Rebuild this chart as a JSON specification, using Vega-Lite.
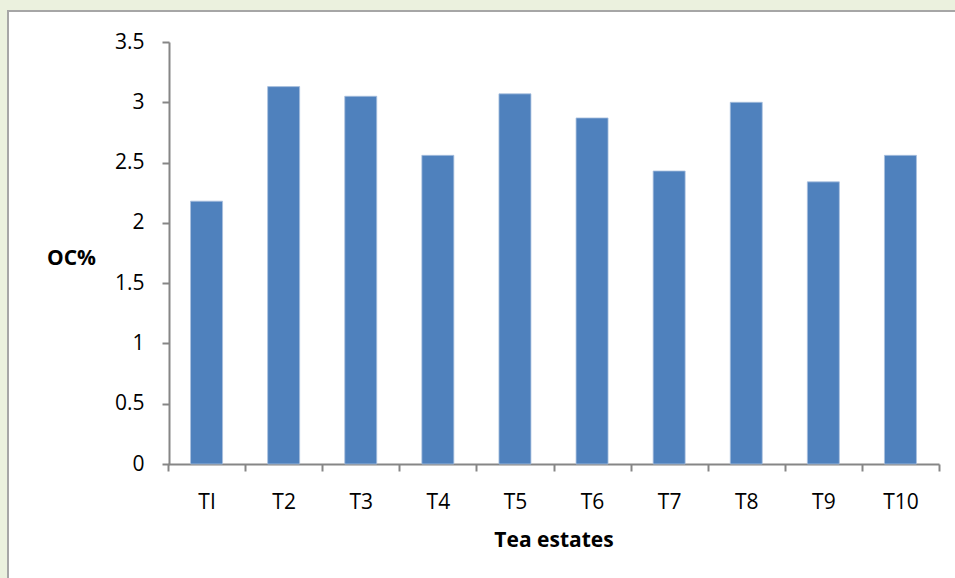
{
  "$schema": "https://vega.github.io/schema/vega-lite/v6.json",
  "autosize": "none",
  "width": 951,
  "height": 571,
  "padding": {"left": 8, "top": 11, "right": -4, "bottom": -4},
  "background": "#EBF1DE",
  "config": {
    "view": {"fill": "white", "stroke": "#A6A6A6", "strokeWidth": 2},
    "font": "Open Sans"
  },
  "data": {
    "values": [
      {"estate": "TI", "oc": 2.18},
      {"estate": "T2", "oc": 3.13},
      {"estate": "T3", "oc": 3.05},
      {"estate": "T4", "oc": 2.56},
      {"estate": "T5", "oc": 3.07},
      {"estate": "T6", "oc": 2.87},
      {"estate": "T7", "oc": 2.43},
      {"estate": "T8", "oc": 3.0},
      {"estate": "T9", "oc": 2.34},
      {"estate": "T10", "oc": 2.56}
    ]
  },
  "mark": {"type": "bar", "color": "#4F81BD", "stroke": "#A9C0DE", "strokeWidth": 0.8, "width": {"band": 0.415}},
  "encoding": {
    "x": {
      "field": "estate",
      "type": "nominal",
      "sort": null,
      "scale": {"range": [160, 931], "paddingInner": 0, "paddingOuter": 0},
      "axis": {
        "title": "Tea estates",
        "orient": "bottom",
        "offset": -118,
        "labelAngle": 0,
        "tickBand": "extent",
        "domainColor": "#868686",
        "domainWidth": 2,
        "tickColor": "#868686",
        "tickWidth": 2,
        "tickSize": 7,
        "labelFont": "Open Sans",
        "labelFontSize": 21,
        "labelColor": "black",
        "labelPadding": 20,
        "titleFont": "Open Sans",
        "titleFontSize": 21,
        "titleFontWeight": "bold",
        "titleColor": "black",
        "titlePadding": 17
      }
    },
    "y": {
      "field": "oc",
      "type": "quantitative",
      "scale": {"domain": [0, 3.5], "range": [453, 31], "nice": false, "zero": true},
      "axis": {
        "title": "OC%",
        "offset": -161,
        "values": [0, 0.5, 1, 1.5, 2, 2.5, 3, 3.5],
        "format": "~g",
        "grid": false,
        "domainColor": "#868686",
        "domainWidth": 2,
        "tickColor": "#868686",
        "tickWidth": 2,
        "tickSize": 7,
        "labelFont": "Open Sans",
        "labelFontSize": 21,
        "labelColor": "black",
        "labelPadding": 18,
        "titleFont": "Open Sans",
        "titleFontSize": 21,
        "titleFontWeight": "bold",
        "titleColor": "black",
        "titleAngle": 0,
        "titleAlign": "center",
        "titleBaseline": "middle",
        "titleX": -98,
        "titleY": 247
      }
    }
  }
}
